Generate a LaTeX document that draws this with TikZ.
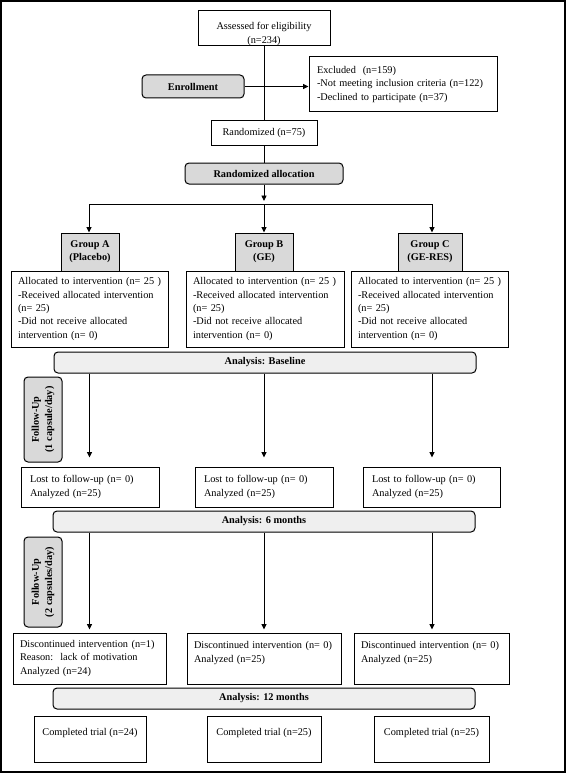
\documentclass[tikz,border=0pt]{standalone}
\usepackage{fontspec}
\setmainfont{Liberation Serif}
\usetikzlibrary{arrows.meta}
\definecolor{boxgray}{HTML}{D9D9D9}
\definecolor{anagray}{HTML}{EFEFEF}
\begin{document}
\begin{tikzpicture}[x=1pt,y=-1pt,
  txt/.style={font=\fontsize{10.3}{13.3}\selectfont},
  box/.style={draw, line width=1pt, inner sep=0pt, txt},
  lbox/.style={box, align=left, inner xsep=7pt},
  cbox/.style={box, align=center},
  gbox/.style={box, align=center, fill=boxgray, font=\fontsize{10.3}{13.3}\selectfont\bfseries},
  rbox/.style={gbox, rounded corners=4pt},
  abox/.style={box, align=center, fill=anagray, rounded corners=4pt, font=\fontsize{10.3}{13.3}\selectfont\bfseries, minimum width=422pt, minimum height=21pt},
  fbox/.style={rbox, rotate=90, minimum width=#1, minimum height=38pt},
  arr/.style={line width=0.9pt, -{Triangle[length=5.5pt,width=5pt]}},
  ln/.style={line width=0.9pt}
]
\useasboundingbox (0,0) rectangle (566,773);
\draw[line width=2pt] (1,1) rectangle (565,772);

% top part
\node[cbox, minimum width=132pt, minimum height=35pt] (assess) at (264,28.5) {};
\node[txt, align=center, inner sep=0pt] (assesstxt) at (264,34) {Assessed for eligibility\\(n=234)};
\node[rbox, minimum width=102pt, minimum height=23pt] (enroll) at (193,86.5) {Enrollment};
\node[lbox, inner xsep=8pt, text width=172pt, minimum height=55pt] (excl) at (403,84.5) {\mbox{Excluded~~(n=159)}\\\mbox{-Not meeting inclusion criteria (n=122)}\\\mbox{-Declined to participate (n=37)}};
\node[cbox, minimum width=106pt, minimum height=24pt] (rand) at (264,133) {Randomized (n=75)};
\node[rbox, minimum width=158pt, minimum height=21pt] (alloc) at (264,173.5) {Randomized allocation};

\draw[ln] (assess) -- (rand);
\draw[arr] (enroll.east) -- (enroll.east -| excl.west);
\draw[ln] (rand) -- (alloc);

\coordinate (split) at (264,204);
\coordinate (bl) at (89,204);
\coordinate (br) at (432,204);
\draw[arr, shorten >=3pt] (alloc) -- (split);
\draw[ln] (bl) -- (br);

% groups
\node[gbox, minimum width=58pt, minimum height=38pt] (grpA) at (90,252) {Group A\\(Placebo)};
\node[gbox, minimum width=58pt, minimum height=38pt] (grpB) at (264,252) {Group B\\(GE)};
\node[gbox, minimum width=64pt, minimum height=38pt] (grpC) at (430,252) {Group C\\(GE-RES)};
\draw[arr] (bl) -- (bl |- grpA.north);
\draw[arr] (split) -- (grpB.north);
\draw[arr] (br) -- (br |- grpC.north);

\newcommand{\alloctext}{\mbox{Allocated to intervention (n= 25 )}\\\mbox{-Received allocated intervention}\\\mbox{(n= 25)}\\\mbox{-Did not receive allocated}\\\mbox{intervention (n= 0)}}
\node[lbox, text width=143pt, minimum height=76pt] (allocA) at (89.5,309) {\alloctext};
\node[lbox, text width=144pt, minimum height=76pt] (allocB) at (265,309) {\alloctext};
\node[lbox, text width=143pt, minimum height=76pt] (allocC) at (429.5,309) {\alloctext};

% baseline
\node[abox] (base) at (265,362.5) {Analysis: Baseline};
\node[fbox=85pt] (fu1) at (43,419.5) {Follow-Up\\(1 capsule/day)};

\node[lbox, inner xsep=9pt, text width=120pt, minimum height=40pt] (lostA) at (90,487) {Lost to follow-up (n= 0)\\Analyzed (n=25)};
\node[lbox, inner xsep=9pt, text width=120pt, minimum height=40pt] (lostB) at (264,487) {Lost to follow-up (n= 0)\\Analyzed (n=25)};
\node[lbox, inner xsep=9pt, text width=119pt, minimum height=40pt] (lostC) at (431.5,487) {Lost to follow-up (n= 0)\\Analyzed (n=25)};
\draw[arr, shorten >=9pt] (base.south -| allocA.center) -- (lostA.north -| allocA.center);
\draw[arr, shorten >=9pt] (base.south -| lostB.north) -- (lostB.north);
\draw[arr, shorten >=9pt] (base.south -| br) -- (lostC.north -| br);

% 6 months
\node[abox] (six) at (264,521.5) {Analysis: 6 months};
\node[fbox=90pt] (fu2) at (43,582) {Follow-Up\\(2 capsules/day)};

\node[lbox, text width=139pt, minimum height=51pt] (discA) at (89.5,658.5) {\mbox{Discontinued intervention (n=1)}\\\mbox{Reason:\hspace{2pt} lack of motivation}\\\mbox{Analyzed (n=24)}};
\node[lbox, text width=140pt, minimum height=51pt] (discB) at (264,658.5) {\mbox{Discontinued intervention (n= 0)}\\\mbox{Analyzed (n=25)}\\\mbox{}};
\node[lbox, text width=141pt, minimum height=51pt] (discC) at (431.5,658.5) {\mbox{Discontinued intervention (n= 0)}\\\mbox{Analyzed (n=25)}\\\mbox{}};
\draw[arr, shorten >=3pt] (six.south -| allocA.center) -- (discA.north -| allocA.center);
\draw[arr, shorten >=3pt] (six.south -| discB.north) -- (discB.north);
\draw[arr, shorten >=3pt] (six.south -| br) -- (discC.north -| br);

% 12 months
\node[abox] (twelve) at (264,698.5) {Analysis: 12 months};
\node[cbox, minimum width=112pt, minimum height=46pt] (compA) at (90,739) {Completed trial (n=24)\\\mbox{}};
\node[cbox, minimum width=114pt, minimum height=46pt] (compB) at (264,739) {Completed trial (n=25)\\\mbox{}};
\node[cbox, minimum width=115pt, minimum height=46pt] (compC) at (431.5,739) {Completed trial (n=25)\\\mbox{}};
\end{tikzpicture}
\end{document}
